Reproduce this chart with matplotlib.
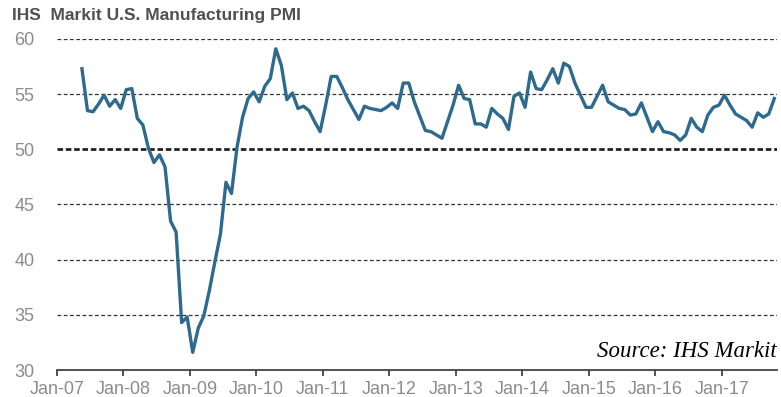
import matplotlib
matplotlib.use("Agg")
import matplotlib.pyplot as plt
import numpy as np
import pandas as pd

# IHS Markit US manufacturing PMI, monthly from May 2007
pmi = [57.3, 53.5, 53.4, 54.1, 54.9, 53.9, 54.5, 53.7,
       55.4, 55.5, 52.8, 52.2, 50.1, 48.8, 49.5, 48.4, 43.5, 42.5, 34.3, 34.8,
       31.6, 33.8, 34.9, 37.2, 39.8, 42.3, 47.0, 46.0, 50.2, 52.9, 54.6, 55.2,
       54.3, 55.7, 56.4, 59.1, 57.6, 54.5, 55.1, 53.7, 53.9, 53.5, 52.5, 51.6,
       54.0, 56.6, 56.6, 55.6, 54.5, 53.6, 52.7, 53.9, 53.7, 53.6, 53.5, 53.8,
       54.2, 53.7, 56.0, 56.0, 54.3, 53.0, 51.7, 51.6, 51.3, 51.0, 52.5, 54.0,
       55.8, 54.6, 54.5, 52.3, 52.3, 52.0, 53.7, 53.2, 52.8, 51.8, 54.8, 55.1,
       53.8, 57.0, 55.5, 55.4, 56.3, 57.3, 56.0, 57.8, 57.5, 56.0, 54.9, 53.8,
       53.8, 54.8, 55.8, 54.3, 54.0, 53.7, 53.6, 53.1, 53.2, 54.2, 52.9, 51.6,
       52.5, 51.6, 51.5, 51.3, 50.8, 51.3, 52.8, 52.0, 51.6, 53.1, 53.8, 54.0,
       54.9, 54.0, 53.2, 52.9, 52.6, 52.0, 53.3, 52.9, 53.2, 54.6]
dates = pd.date_range("2007-05-01", periods=len(pmi), freq="MS")
tick_years = list(range(2007, 2018))
tick_labels = ["Jan-%02d" % (y % 100) for y in tick_years]
y_ticks = [30, 35, 40, 45, 50, 55, 60]

# months since Jan-07, plotted mid-month
x = (dates.year - 2007) * 12 + (dates.month - 1) + 0.5

fig = plt.figure(figsize=(7.81, 3.97), dpi=100)
ax = fig.add_axes([0.073, 0.068, 0.922, 0.834])

for v in y_ticks[1:]:
    if v == 50:
        ax.axhline(v, color="#222222", lw=2.0, ls=(0, (2, 1)), zorder=1)
    else:
        ax.axhline(v, color="#333333", lw=0.9, ls=(0, (3, 2)), zorder=1)

ax.plot(x, pmi, color="#2e6a8e", lw=2.4, solid_joinstyle="round", zorder=3)

ax.set_xlim(0, 130)
ax.set_ylim(30, 60)
ax.set_xticks([(y - 2007) * 12 for y in tick_years])
ax.set_xticklabels(tick_labels)
ax.set_yticks(y_ticks)

for s in ["top", "right", "left"]:
    ax.spines[s].set_visible(False)
ax.spines["bottom"].set_color("#444444")
ax.spines["bottom"].set_linewidth(1.3)
ax.tick_params(axis="x", direction="out", length=4, width=1.3, color="#444444",
               labelsize=13, labelcolor="#8c8c8c", pad=4)
ax.tick_params(axis="y", length=0, labelsize=13, labelcolor="#8c8c8c", pad=16)
for lab in ax.get_xticklabels() + ax.get_yticklabels():
    lab.set_family("Liberation Sans")

fig.text(0.015, 0.962, "IHS  Markit U.S. Manufacturing PMI", fontsize=12.5,
         fontweight="bold", color="#505050", family="Liberation Sans",
         va="center", ha="left")
ax.text(0.999, 0.055, "Source: IHS Markit", transform=ax.transAxes,
        fontsize=16.5, style="italic", family="Liberation Serif",
        ha="right", va="center", color="black")

fig.savefig("out.png", dpi=100)
